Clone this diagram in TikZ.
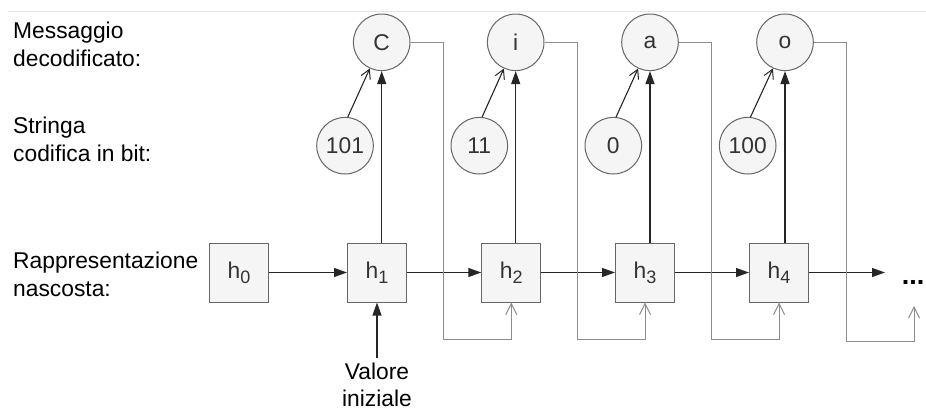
\documentclass[tikz,border=0pt]{standalone}
\usepackage{fontspec}
\setmainfont{Liberation Sans}
\usetikzlibrary{arrows.meta,calc}
\definecolor{boxfill}{HTML}{F5F5F5}
\definecolor{boxline}{HTML}{666666}
\definecolor{boxtext}{HTML}{333333}
\definecolor{fbline}{HTML}{8C8C8C}
\definecolor{rule}{HTML}{E4E4E4}
\newcommand\hsubx[1]{h\raisebox{-5pt}{\fontsize{18}{18}\selectfont #1}}
\tikzset{
  lbl/.style={anchor=north west,inner sep=0pt,align=left,font=\fontsize{22.8}{28.5}\selectfont},
  hbox/.style={draw=boxline,fill=boxfill,line width=1pt,minimum size=59pt,inner sep=0pt,text=boxtext,font=\fontsize{22.8}{26}\selectfont},
  circ/.style={circle,draw=boxline,fill=boxfill,line width=1pt,minimum size=56.6pt,inner sep=0pt,text=boxtext,font=\fontsize{22.8}{26}\selectfont},
  blk/.style={draw=black!85,line width=1.2pt,-{Triangle[length=13pt,width=9pt]}},
  openarr/.style={draw=black!85,line width=1.1pt,-{Straight Barb[length=9pt,width=10pt,line width=1pt]}},
  fb/.style={draw=fbline,line width=1pt,-{Straight Barb[length=11pt,width=11pt,line width=1pt]}}
}
\begin{document}
\begin{tikzpicture}[x=1pt,y=-1pt]
\useasboundingbox (0,0) rectangle (926,410);
\draw[rule,line width=1pt] (8,11) -- (926,11);
% left labels
\node[lbl] (l1) at (13,21.7) {Messaggio\\decodificato:};
\node[lbl] (l2) at (13,116.7) {Stringa\\codifica in bit:};
\node[lbl] (l3) at (13,251.7) {Rappresentazione\\nascosta:};
% boxes
\node[hbox] (h0) at (239,272.5) {\hsubx{0}};
\node[hbox] (h1) at (377,272.5) {\hsubx{1}};
\node[hbox] (h2) at (511.3,272.5) {\hsubx{2}};
\node[hbox] (h3) at (645,272.5) {\hsubx{3}};
\node[hbox] (h4) at (779,272.5) {\hsubx{4}};
% decoded circles
\node[circ] (c1) at (381.7,42.3) {C};
\node[circ] (c2) at (515.7,42.3) {i};
\node[circ] (c3) at (650,42.3) {a};
\node[circ] (c4) at (785,42.3) {o};
% bit circles
\node[circ] (b1) at (345,145.7) {101};
\node[circ] (b2) at (479.3,145.7) {11};
\node[circ] (b3) at (613.3,145.7) {0};
\node[circ] (b4) at (747.7,145.7) {100};
% dots and init
\node[anchor=base,inner sep=0pt,font=\fontsize{27}{27}\selectfont\bfseries] (dots) at (913,284) {...};
\coordinate (endh) at (885,272.5);
\coordinate (dotin) at (914,306);
\node[inner sep=0pt,align=center,font=\fontsize{22.8}{27}\selectfont] (init) at (377,384.5) {Valore\\iniziale};
\coordinate (initup) at (377,358);
% horizontal chain
\draw[blk] (h0) -- (h1);
\draw[blk] (h1) -- (h2);
\draw[blk] (h2) -- (h3);
\draw[blk] (h3) -- (h4);
\draw[blk] (h4) -- (endh);
\draw[blk] (initup) -- (h1.south);
% up arrows to decoded
\foreach \h/\c in {h1/c1,h2/c2,h3/c3,h4/c4}{
  \draw[blk] (\c.south |- \h.north) -- (\c.south);
}
% bit arrows
\foreach \b/\c in {b1/c1,b2/c2,b3/c3,b4/c4}{
  \draw[openarr] ($(\b.north)+(2.7,0.3)$) -- (\c);
}
% feedback
\draw[fb] (c1.east) -- ++(33,0) |- ($(h2.south)+(0,37)$) -- (h2.south);
\draw[fb] (c2.east) -- ++(33,0) |- ($(h3.south)+(0,37)$) -- (h3.south);
\draw[fb] (c3.east) -- ++(33,0) |- ($(h4.south)+(0,37)$) -- (h4.south);
\draw[fb] (c4.east) -- ++(33,0) |- ($(dotin)+(0,35)$) -- (dotin);
\end{tikzpicture}
\end{document}
